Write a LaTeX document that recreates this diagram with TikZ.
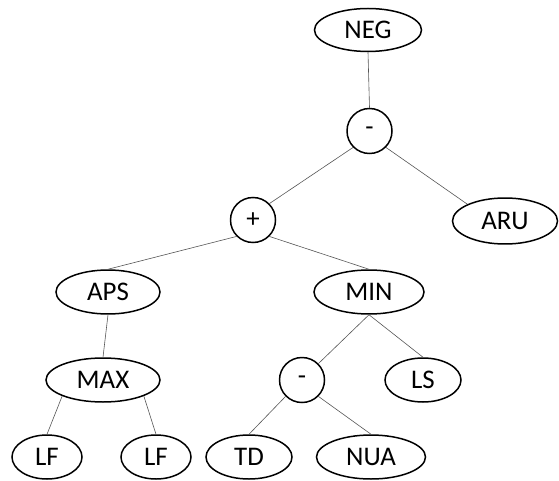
\documentclass[tikz,border=0pt]{standalone}
\usepackage{fontspec}
\setmainfont{Carlito}
\usepackage{tikz}
\usetikzlibrary{shapes.geometric}
\definecolor{edgegray}{HTML}{555555}

\begin{document}
\begin{tikzpicture}[x=1bp, y=-1bp,
    term/.style={draw, ellipse, line width=1.5pt, inner sep=0pt, font=\fontsize{27}{30}\selectfont},
    op/.style={draw, circle, line width=1.5pt, inner sep=0pt, minimum size=45bp, font=\fontsize{27}{30}\selectfont},
    link/.style={edgegray, line width=0.6pt}]
        \useasboundingbox (0,0) rectangle (559,481);
        \node[term, minimum width=107bp, minimum height=43bp] (NEG) at (368, 30) {NEG};
        \node[op] (M1) at (369.5, 131) {-};
        \node[op] (P) at (253, 220) {+};
        \node[term, minimum width=105bp, minimum height=46bp] (ARU) at (505, 221) {ARU};
        \node[term, minimum width=104bp, minimum height=44bp] (APS) at (108, 292) {APS};
        \node[term, minimum width=110bp, minimum height=44bp] (MIN) at (369, 292) {MIN};
        \node[term, minimum width=114bp, minimum height=44bp] (MAX) at (103, 380) {MAX};
        \node[op] (M2) at (302, 380) {-};
        \node[term, minimum width=76bp, minimum height=44bp] (LS) at (423, 380) {LS};
        \node[term, minimum width=70bp, minimum height=44bp] (LF1) at (47, 457) {LF};
        \node[term, minimum width=70bp, minimum height=44bp] (LF2) at (156, 457) {LF};
        \node[term, minimum width=86bp, minimum height=44bp] (TD) at (249, 457) {TD};
        \node[term, minimum width=109bp, minimum height=44bp] (NUA) at (371, 457) {NUA};
        \draw[link] (NEG.south) -- (M1.north);
        \draw[link] (M1.south west) -- (P.north east);
        \draw[link] (M1.south east) -- (ARU.north west);
        \draw[link] (P.south west) -- (APS.north);
        \draw[link] (P.south east) -- (MIN.north);
        \draw[link] (APS.south) -- (MAX.north);
        \draw[link] (MAX.south west) -- (LF1.north);
        \draw[link] (MAX.south east) -- (LF2.north);
        \draw[link] (MIN.south) -- (M2.north east);
        \draw[link] (MIN.south) -- (LS.north);
        \draw[link] (M2.south west) -- (TD.north);
        \draw[link] (M2.south east) -- (NUA.north);
      \end{tikzpicture}
\end{document}
